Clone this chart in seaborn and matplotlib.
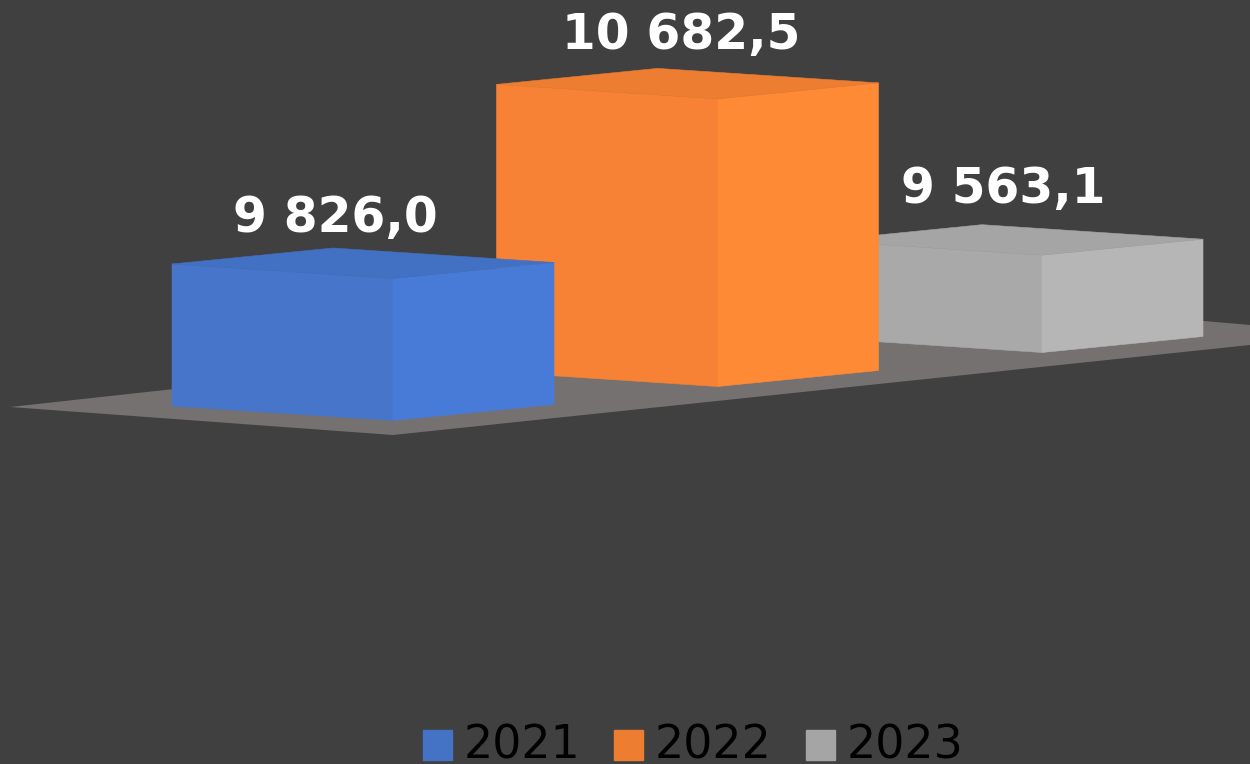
import matplotlib
matplotlib.use('Agg')
import matplotlib.pyplot as plt
import seaborn as sns
from matplotlib.patches import Polygon

# data
years = ['2021', '2022', '2023']
values = [9826.0, 10682.5, 9563.1]
value_labels = ['9 826,0', '10 682,5', '9 563,1']

# colours
BG = '#404040'
FLOOR = '#767171'
legend_colors = ['#4472C4', '#ED7D31', '#A5A5A5']
front_colors = ['#4675C9', '#F78134', '#A9A9A9']
side_colors = ['#487BD8', '#FF8A35', '#B6B6B6']
top_colors = ['#4270C2', '#ED7D31', '#A5A5A5']

# fake 3d view, everything in pixels of the 1250x764 picture
PX_PER_UNIT = 0.17
BASE_VALUE = 8990.7
BASE_PX = 406
CAT_PX = 324.5
FIRST_CENTER_PX = 282.5
ROW_LIFT = 34
FACE_DROP = 14.5
DEPTH_DX = 161
DEPTH_DY = 16
label_offsets = [(2, 30), (24, 33), (21, 36)]

sns.set_theme(style='white')
plt.rcParams['font.family'] = 'DejaVu Sans'

fig, ax = plt.subplots(figsize=(12.5, 7.64), dpi=100)
fig.patch.set_facecolor(BG)
ax.set_position([0, 0, 1, 1])

sns.barplot(x=years, y=values, hue=years, palette=legend_colors, width=221 / CAT_PX,
            dodge=False, saturation=1, legend=True, ax=ax)

ax.set_xlim(-FIRST_CENTER_PX / CAT_PX, (1250 - FIRST_CENTER_PX) / CAT_PX)
ax.set_ylim(BASE_VALUE - (764 - BASE_PX) / PX_PER_UNIT, BASE_VALUE + BASE_PX / PX_PER_UNIT)
ax.axis('off')

# only the real bars, the legend adds empty ones
bars = sorted([p for p in ax.patches if p.get_height() > 0], key=lambda b: b.get_x())


def shift(x, v, dx_px, dy_px):
    # move a data point by some pixels (dy up)
    return x + dx_px / CAT_PX, v + dy_px / PX_PER_UNIT


# floor under the bars
floor_px = [(10, 407), (393, 435), (1250, 345), (1250, 325), (1204, 321), (985, 300)]
floor = Polygon([(-FIRST_CENTER_PX / CAT_PX + x / CAT_PX,
                  BASE_VALUE + (BASE_PX - y) / PX_PER_UNIT) for x, y in floor_px],
                closed=True, facecolor=FLOOR, edgecolor='none', zorder=1)
ax.add_patch(floor)

for i, bar in enumerate(bars):
    bar.set_visible(False)
    left = bar.get_x()
    w_px = bar.get_width() * CAT_PX
    lift = i * ROW_LIFT
    z = 10 - i

    def pt(along, depth, v):
        # along = 0..1 on the front face, depth = 0..1 towards the back
        return shift(left, v,
                     along * w_px + depth * DEPTH_DX,
                     lift - along * FACE_DROP + depth * DEPTH_DY)

    v = bar.get_height()
    faces = [
        ([pt(0, 0, BASE_VALUE), pt(1, 0, BASE_VALUE), pt(1, 0, v), pt(0, 0, v)], front_colors[i]),
        ([pt(1, 0, BASE_VALUE), pt(1, 1, BASE_VALUE), pt(1, 1, v), pt(1, 0, v)], side_colors[i]),
        ([pt(0, 0, v), pt(1, 0, v), pt(1, 1, v), pt(0, 1, v)], top_colors[i]),
    ]
    for verts, color in faces:
        ax.add_patch(Polygon(verts, closed=True, facecolor=color, edgecolor=color,
                             linewidth=0.4, zorder=z))

    dx, dy = label_offsets[i]
    ax.annotate(value_labels[i], xy=pt(0, 1, v), xytext=(dx * 0.72, dy * 0.72),
                textcoords='offset points', ha='center', va='center',
                fontsize=35, fontweight='bold', color='white', zorder=20)

sns.move_legend(ax, 'center', bbox_to_anchor=(693 / 1250, 1 - 746 / 764), ncol=3, title=None,
                frameon=False, fontsize=33, handlelength=0.63, handleheight=0.63,
                handletextpad=0.25, columnspacing=0.75, labelcolor='black',
                borderpad=0, borderaxespad=0)

# swatches sit a little lower in the original and have no white edge
for handle in ax.get_legend().get_patches():
    handle.set_edgecolor(handle.get_facecolor())
    handle.set_y(handle.get_y() - 1.8)

fig.savefig('out.png', dpi=100, facecolor=BG)
